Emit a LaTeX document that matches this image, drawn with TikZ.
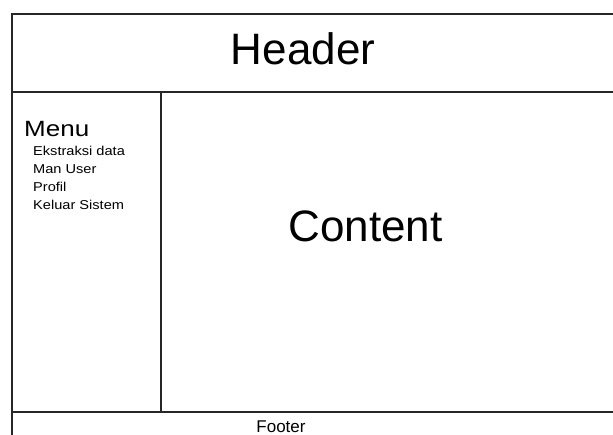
\documentclass[tikz,border=0pt]{standalone}
\usepackage{fontspec}
\setmainfont{Liberation Sans}
\begin{document}
\begin{tikzpicture}[x=1pt,y=-1pt,
  frame/.style={line width=2pt,draw=black!85},
  big/.style={font=\fontsize{44}{48}\selectfont,inner sep=0pt,anchor=base},
  menutitle/.style={font=\fontsize{26}{28}\selectfont,inner sep=0pt,anchor=base west,yscale=0.85},
  item/.style={font=\fontsize{14.6}{16}\selectfont,inner sep=0pt,anchor=base west,yscale=0.88},
  foot/.style={font=\fontsize{17}{19}\selectfont,inner sep=0pt,anchor=base}]
\useasboundingbox[fill=white] (0,0) rectangle (613,435);
% frame
\draw[frame] (613,14) -- (12,14) -- (12,435);
\draw[frame] (12,92) -- (613,92);
\draw[frame] (161,92) -- (161,412);
\draw[frame] (12,412) -- (613,412);
% texts
\node[big] (header) at (303,65) {Header};
\node[big] (content) at (365.5,242) {Content};
\node[menutitle] (menu) at (24,137) {Menu};
\node[item] (i1) at (33,156) {Ekstraksi data};
\node[item] (i2) at (33,174) {Man User};
\node[item] (i3) at (33,192) {Profil};
\node[item] (i4) at (33,209.5) {Keluar Sistem};
\node[foot] (footer) at (281,432) {Footer};
\end{tikzpicture}
\end{document}
